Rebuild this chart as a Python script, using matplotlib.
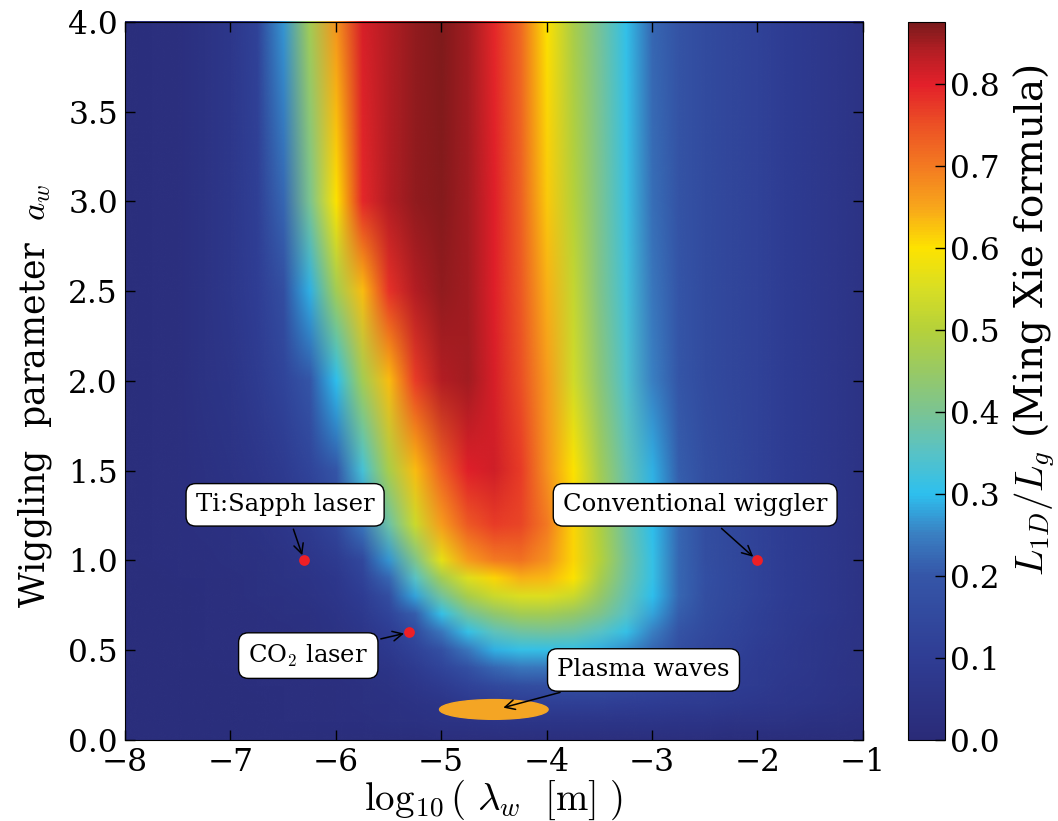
import numpy as np
import matplotlib
matplotlib.use('Agg')
import matplotlib.pyplot as plt
from matplotlib.colors import LinearSegmentedColormap, Normalize
from matplotlib.image import NonUniformImage
from matplotlib.patches import Ellipse

plt.rcParams['font.family'] = 'serif'
plt.rcParams['font.serif'] = ['DejaVu Serif']
plt.rcParams['mathtext.fontset'] = 'cm'

# log10 of wiggler period (columns) and wiggling parameter a_w (rows)
log_lambda = [-8.0, -7.75, -7.5, -7.25, -7.0, -6.75, -6.5, -6.25, -6.0, -5.75,
              -5.5, -5.25, -5.0, -4.75, -4.5, -4.25, -4.0, -3.75, -3.5, -3.25,
              -3.0, -2.75, -2.5, -2.25, -2.0, -1.75, -1.5, -1.25, -1.0]
a_w = [0.0, 0.1, 0.2, 0.3, 0.4, 0.5, 0.6, 0.7, 0.8, 0.9, 1.0, 1.2, 1.5, 2.0, 2.5, 3.0, 4.0]

# L_1D / L_g, one row per a_w value
r_000 = [0.02, 0.02, 0.02, 0.02, 0.02, 0.02, 0.02, 0.02, 0.02, 0.02, 0.02, 0.02, 0.025, 0.025, 0.025,
         0.025, 0.025, 0.025, 0.025, 0.025, 0.025, 0.025, 0.025, 0.02, 0.02, 0.02, 0.02, 0.02, 0.02]
r_010 = [0.02, 0.02, 0.02, 0.02, 0.02, 0.02, 0.025, 0.025, 0.03, 0.03, 0.035, 0.04, 0.045, 0.05, 0.055,
         0.06, 0.06, 0.06, 0.06, 0.06, 0.06, 0.055, 0.055, 0.05, 0.05, 0.045, 0.04, 0.035, 0.03]
r_020 = [0.02, 0.02, 0.02, 0.02, 0.02, 0.02, 0.025, 0.025, 0.03, 0.035, 0.04, 0.05, 0.06, 0.08, 0.095,
         0.105, 0.11, 0.11, 0.11, 0.105, 0.10, 0.095, 0.09, 0.08, 0.075, 0.065, 0.06, 0.05, 0.04]
r_030 = [0.02, 0.02, 0.02, 0.02, 0.02, 0.025, 0.025, 0.03, 0.03, 0.035, 0.045, 0.065, 0.09, 0.12, 0.15,
         0.165, 0.17, 0.17, 0.165, 0.155, 0.14, 0.125, 0.11, 0.10, 0.09, 0.075, 0.065, 0.055, 0.045]
r_040 = [0.02, 0.02, 0.02, 0.02, 0.025, 0.025, 0.03, 0.03, 0.035, 0.045, 0.06, 0.09, 0.13, 0.18, 0.22,
         0.24, 0.24, 0.24, 0.23, 0.21, 0.18, 0.15, 0.125, 0.11, 0.095, 0.08, 0.07, 0.055, 0.045]
r_050 = [0.02, 0.02, 0.02, 0.025, 0.025, 0.03, 0.03, 0.035, 0.04, 0.055, 0.08, 0.12, 0.18, 0.24, 0.29,
         0.31, 0.31, 0.31, 0.29, 0.26, 0.22, 0.17, 0.14, 0.12, 0.10, 0.085, 0.07, 0.06, 0.045]
r_060 = [0.02, 0.02, 0.02, 0.025, 0.025, 0.03, 0.03, 0.035, 0.045, 0.065, 0.10, 0.16, 0.24, 0.31, 0.36,
         0.385, 0.39, 0.38, 0.35, 0.31, 0.25, 0.19, 0.155, 0.13, 0.11, 0.09, 0.075, 0.06, 0.05]
r_070 = [0.02, 0.02, 0.02, 0.025, 0.025, 0.03, 0.035, 0.04, 0.055, 0.08, 0.13, 0.21, 0.31, 0.39, 0.44,
         0.47, 0.47, 0.45, 0.41, 0.35, 0.28, 0.21, 0.165, 0.14, 0.115, 0.095, 0.08, 0.065, 0.05]
r_080 = [0.02, 0.02, 0.02, 0.025, 0.03, 0.035, 0.04, 0.05, 0.065, 0.10, 0.17, 0.28, 0.39, 0.48, 0.53,
         0.555, 0.56, 0.53, 0.45, 0.37, 0.30, 0.22, 0.17, 0.145, 0.12, 0.10, 0.08, 0.065, 0.05]
r_090 = [0.02, 0.02, 0.025, 0.03, 0.03, 0.035, 0.045, 0.055, 0.075, 0.12, 0.22, 0.35, 0.47, 0.56, 0.61,
         0.64, 0.635, 0.60, 0.48, 0.385, 0.31, 0.22, 0.175, 0.15, 0.12, 0.10, 0.08, 0.065, 0.05]
r_100 = [0.02, 0.025, 0.03, 0.03, 0.035, 0.04, 0.05, 0.065, 0.09, 0.15, 0.27, 0.41, 0.57, 0.66, 0.70,
         0.71, 0.67, 0.61, 0.50, 0.39, 0.31, 0.22, 0.17, 0.145, 0.12, 0.10, 0.08, 0.065, 0.05]
r_120 = [0.02, 0.025, 0.03, 0.035, 0.04, 0.05, 0.065, 0.09, 0.14, 0.24, 0.38, 0.53, 0.66, 0.74, 0.77,
         0.76, 0.70, 0.61, 0.49, 0.38, 0.30, 0.22, 0.17, 0.145, 0.12, 0.10, 0.08, 0.065, 0.05]
r_150 = [0.02, 0.025, 0.03, 0.04, 0.05, 0.065, 0.09, 0.13, 0.20, 0.33, 0.48, 0.63, 0.73, 0.80, 0.815,
         0.77, 0.67, 0.60, 0.47, 0.37, 0.29, 0.21, 0.17, 0.145, 0.12, 0.10, 0.08, 0.065, 0.05]
r_200 = [0.02, 0.025, 0.03, 0.045, 0.06, 0.09, 0.13, 0.20, 0.30, 0.47, 0.63, 0.77, 0.84, 0.85, 0.81,
         0.75, 0.66, 0.54, 0.43, 0.34, 0.25, 0.20, 0.16, 0.14, 0.12, 0.10, 0.08, 0.065, 0.05]
r_250 = [0.02, 0.025, 0.03, 0.045, 0.07, 0.105, 0.17, 0.29, 0.47, 0.63, 0.78, 0.84, 0.86, 0.85, 0.80,
         0.74, 0.64, 0.52, 0.41, 0.325, 0.24, 0.195, 0.16, 0.14, 0.12, 0.10, 0.08, 0.065, 0.05]
r_300 = [0.02, 0.025, 0.03, 0.045, 0.07, 0.11, 0.22, 0.40, 0.60, 0.79, 0.84, 0.86, 0.865, 0.85, 0.80,
         0.73, 0.62, 0.50, 0.40, 0.315, 0.23, 0.19, 0.16, 0.14, 0.12, 0.10, 0.08, 0.065, 0.05]
r_400 = [0.02, 0.025, 0.03, 0.045, 0.07, 0.12, 0.27, 0.47, 0.67, 0.81, 0.84, 0.86, 0.87, 0.85, 0.79,
         0.72, 0.60, 0.48, 0.39, 0.305, 0.22, 0.19, 0.16, 0.14, 0.12, 0.10, 0.08, 0.065, 0.05]

# labelled sources
source_names = ['Ti:Sapph laser', 'CO$_2$ laser', 'Conventional wiggler']
source_x = [-6.3, -5.3, -2.0]
source_y = [1.0, 0.6, 1.0]
label_x = [-6.48, -6.26, -2.59]
label_y = [1.31, 0.47, 1.31]

plasma_x, plasma_y = -4.5, 0.17
plasma_w, plasma_h = 1.03, 0.11
plasma_label_x, plasma_label_y = -3.08, 0.39

# jet-like map as printed in the figure
cmap_pts = [(0.0, '#2a2b78'), (0.1, '#2f3d94'), (0.2, '#3556a8'), (0.25, '#3a7fc2'),
            (0.3, '#2ec0ee'), (0.35, '#58c2c6'), (0.4, '#7bc492'), (0.45, '#98c964'),
            (0.5, '#b5d13a'), (0.55, '#d8de24'), (0.6, '#fde300'), (0.65, '#f8a61b'),
            (0.7, '#f37a21'), (0.75, '#ec5125'), (0.8, '#e3202a'), (0.84, '#b51e24'),
            (0.875, '#7a1a1b')]
vmax = 0.875
cmap = LinearSegmentedColormap.from_list('printjet', [(v / vmax, c) for v, c in cmap_pts])

ratio = np.array([r_000, r_010, r_020, r_030, r_040, r_050, r_060, r_070, r_080,
                  r_090, r_100, r_120, r_150, r_200, r_250, r_300, r_400])

fig = plt.figure(figsize=(10.58, 8.21), dpi=100)
ax = fig.add_axes([0.118, 0.0987, 0.6975, 0.8745])
cax = fig.add_axes([0.858, 0.0987, 0.035, 0.8745])

im = NonUniformImage(ax, interpolation='bilinear', cmap=cmap,
                     norm=Normalize(0, vmax), extent=(-8, -1, 0, 4))
im.set_data(log_lambda, a_w, ratio)
ax.add_image(im)

ax.add_patch(Ellipse((plasma_x, plasma_y), plasma_w, plasma_h, color='#f4a524', zorder=3))
ax.scatter(source_x, source_y, s=60, color='#ee1f26', zorder=4, linewidths=0)

box = dict(boxstyle='round,pad=0.4', fc='white', ec='black', lw=1.0)
arrow = dict(arrowstyle='->', color='black', lw=1.1, shrinkB=4)
for name, px, py, tx, ty in zip(source_names, source_x, source_y, label_x, label_y):
    ax.annotate(name, xy=(px, py), xytext=(tx, ty), ha='center', va='center',
                fontsize=17.5, bbox=box, arrowprops=arrow, zorder=5)
ax.annotate('Plasma waves', xy=(plasma_x + 0.09, plasma_y + 0.01),
            xytext=(plasma_label_x, plasma_label_y), ha='center', va='center',
            fontsize=17.5, bbox=box,
            arrowprops=dict(arrowstyle='->', color='black', lw=1.1, shrinkB=0), zorder=5)

ax.set_xlim(-8, -1)
ax.set_ylim(0, 4)
ax.set_xticks(np.arange(-8, 0, 1))
ax.set_yticks(np.arange(0, 4.01, 0.5))
ax.tick_params(direction='in', top=True, right=True, length=7, width=1, labelsize=22.5, pad=5)
ax.set_xlabel(r'$\log_{10}(\ \lambda_w\ \ [\mathrm{m}]\ )$', fontsize=28, labelpad=0)
ax.set_ylabel(r'Wiggling  parameter  $a_w$', fontsize=25)
ax.yaxis.set_label_coords(-0.096, 0.479)

cbar = fig.colorbar(im, cax=cax, ticks=np.arange(0, 0.81, 0.1))
cbar.ax.tick_params(direction='in', length=7, width=1, labelsize=22.5)
cbar.set_label(r'$L_{1D}/L_g$ (Ming Xie formula)', fontsize=28)
cbar.ax.yaxis.set_label_coords(2.8, 0.585)

fig.savefig('out.png', dpi=100)
